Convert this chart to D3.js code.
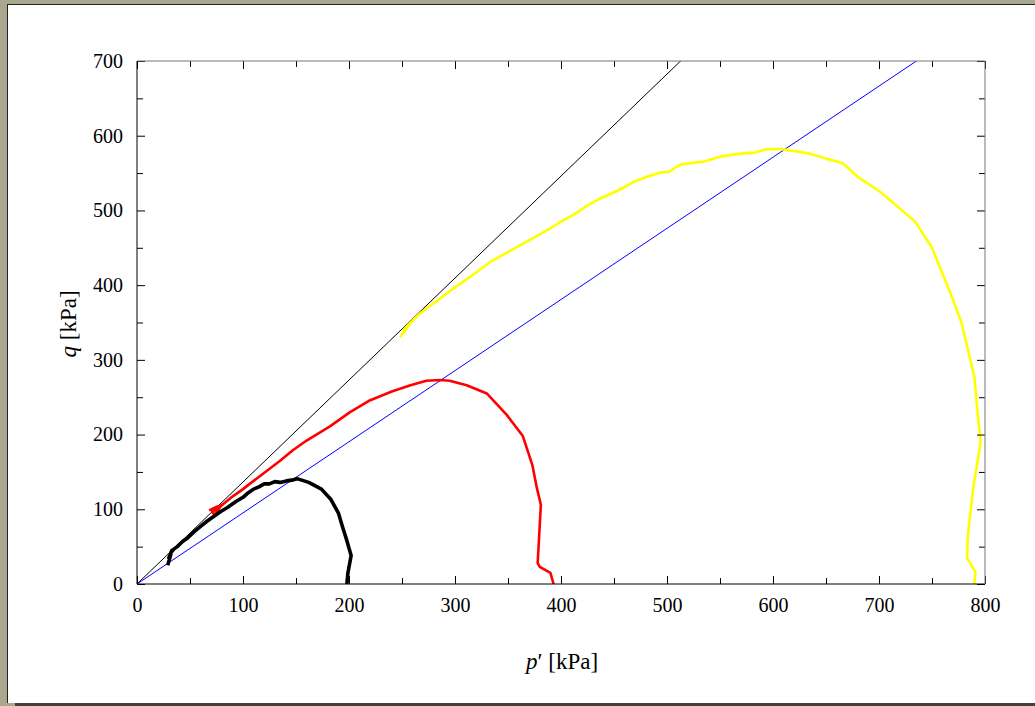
<!DOCTYPE html>
<html>
<head>
<meta charset="utf-8">
<script src="https://cdn.jsdelivr.net/npm/d3@7"></script>
<style>
  html, body { margin: 0; padding: 0; background: #a9a88f; }
  svg { display: block; }
  text { font-family: "Liberation Serif", "Times New Roman", serif; fill: #000; }
</style>
</head>
<body>
<svg id="chart" width="1035" height="706"></svg>
<script>
// Stress paths of three undrained triaxial tests: mean effective stress p' vs deviator q (kPa)
const testA_p = [198, 199, 202, 198, 194, 190, 183, 174, 162, 151, 146, 141, 135, 130, 125, 120, 115, 110, 104, 100, 93, 85, 79, 72, 66, 60, 54, 48, 43, 38, 35, 32, 33, 30, 32, 29];
const testA_q = [0, 15, 38, 58, 76, 95, 113, 127, 136, 141, 139, 138, 136, 137, 134, 134, 130, 127, 121, 116, 110, 102, 97, 90, 84, 77, 70, 62, 57, 50, 47, 42, 45, 35, 40, 25];

const testB_p = [393, 390, 380, 378, 381, 377, 373, 364, 349, 330, 311, 295, 286, 273, 258, 241, 220, 201, 182, 160, 147, 135, 122, 110, 100, 90, 84, 78, 74, 69, 76, 71, 80, 73, 70];
const testB_q = [0, 15, 23, 28, 106, 130, 159, 198, 226, 255, 266, 272, 273, 272, 266, 258, 246, 230, 211, 192, 179, 165, 151, 138, 127, 117, 110, 103, 100, 99, 104, 96, 106, 92, 100];

const testC_p = [790, 791, 783, 784, 789, 796, 793, 790, 784, 778, 770, 750, 734, 716, 701, 680, 666, 651, 635, 609, 594, 581, 569, 550, 534, 525, 512, 501, 495, 481, 467, 453, 437, 423, 413, 401, 390, 376, 361, 347, 333, 319, 305, 295, 286, 276, 267, 261, 256, 252, 258, 250, 255, 248];
const testC_q = [0, 16, 35, 68, 130, 190, 229, 277, 313, 349, 380, 450, 485, 507, 525, 545, 563, 569, 576, 582, 582, 577, 576, 572, 565, 564, 561, 551, 551, 545, 537, 526, 516, 505, 495, 486, 476, 465, 453, 442, 431, 416, 402, 392, 382, 372, 362, 354, 347, 341, 349, 334, 343, 330];

// Critical-state lines q = M p'
const slopeCompression = 1.365;
const slopeLower = 0.952;

const xTicks = [0, 100, 200, 300, 400, 500, 600, 700, 800];
const yTicks = [0, 100, 200, 300, 400, 500, 600, 700];

const svg = d3.select("#chart");

// page frame with drop shadow
svg.append("rect").attr("x", 15).attr("y", 12).attr("width", 1035).attr("height", 700).attr("fill", "#404040");
svg.append("rect").attr("x", 7).attr("y", 4).attr("width", 1040).attr("height", 699).attr("fill", "#fff");
svg.append("line").attr("x1", 7.5).attr("x2", 7.5).attr("y1", 4).attr("y2", 703).attr("stroke", "#222");
svg.append("line").attr("x1", 7).attr("x2", 1035).attr("y1", 4.5).attr("y2", 4.5).attr("stroke", "#222");

const mLeft = 137, mRight = 985, mTop = 61, mBottom = 584;
const x = d3.scaleLinear().domain([0, 800]).range([mLeft, mRight]);
const y = d3.scaleLinear().domain([0, 700]).range([mBottom, mTop]);

const plot = svg.append("g");
plot.append("defs").append("clipPath").attr("id", "clip")
  .append("rect").attr("x", mLeft).attr("y", mTop).attr("width", mRight - mLeft).attr("height", mBottom - mTop);

// reference lines through the origin
const lineGen = d3.line().x(d => x(d[0])).y(d => y(d[1]));
const refs = [
  { m: slopeCompression, color: "#000" },
  { m: slopeLower, color: "#0000ff" }
];
refs.forEach(r => {
  const pEnd = 800;
  plot.append("path")
    .attr("clip-path", "url(#clip)")
    .attr("d", lineGen([[0, 0], [pEnd, r.m * pEnd]]))
    .attr("fill", "none").attr("stroke", r.color).attr("stroke-width", 1);
});

// stress paths
const series = [
  { p: testC_p, q: testC_q, color: "#ffff00", w: 2.6 },
  { p: testB_p, q: testB_q, color: "#ff0000", w: 2.6 },
  { p: testA_p, q: testA_q, color: "#000000", w: 3.6 }
];
series.forEach(s => {
  const pts = s.p.map((v, i) => [v, s.q[i]]);
  plot.append("path")
    .attr("d", lineGen(pts))
    .attr("fill", "none").attr("stroke", s.color)
    .attr("stroke-width", s.w).attr("stroke-linejoin", "round");
});

// axes with inward ticks on all sides
const minorX = d3.range(50, 800, 100);
const minorY = d3.range(50, 700, 100);
const axisBottom = d3.axisBottom(x).tickValues(xTicks).tickSize(-8).tickPadding(14).tickFormat(d3.format("d"));
const axisLeft = d3.axisLeft(y).tickValues(yTicks).tickSize(-8).tickPadding(14).tickFormat(d3.format("d"));

svg.append("g").attr("transform", `translate(0,${mBottom})`).call(axisBottom);
svg.append("g").attr("transform", `translate(${mLeft},0)`).call(axisLeft);
svg.append("g").attr("transform", `translate(0,${mBottom})`)
  .call(d3.axisBottom(x).tickValues(minorX).tickSize(-6).tickFormat(""));
svg.append("g").attr("transform", `translate(${mLeft},0)`)
  .call(d3.axisLeft(y).tickValues(minorY).tickSize(-6).tickFormat(""));
svg.append("g").attr("transform", `translate(0,${mTop})`)
  .call(d3.axisTop(x).tickValues(xTicks).tickSize(-8).tickFormat(""));
svg.append("g").attr("transform", `translate(0,${mTop})`)
  .call(d3.axisTop(x).tickValues(minorX).tickSize(-6).tickFormat(""));
svg.append("g").attr("transform", `translate(${mRight},0)`)
  .call(d3.axisRight(y).tickValues(yTicks).tickSize(-8).tickFormat(""));
svg.append("g").attr("transform", `translate(${mRight},0)`)
  .call(d3.axisRight(y).tickValues(minorY).tickSize(-6).tickFormat(""));

svg.selectAll(".domain").attr("stroke", "none");
svg.selectAll(".tick line").attr("stroke", "#000");
svg.selectAll(".tick text").style("font-family", "Liberation Serif, serif").style("font-size", "20px");

// plot frame
svg.append("line").attr("x1", mLeft).attr("x2", mLeft).attr("y1", mTop).attr("y2", mBottom).attr("stroke", "#000");
svg.append("line").attr("x1", mLeft).attr("x2", mRight).attr("y1", mBottom).attr("y2", mBottom).attr("stroke", "#000");
svg.append("line").attr("x1", mLeft).attr("x2", mRight).attr("y1", mTop).attr("y2", mTop).attr("stroke", "#777");
svg.append("line").attr("x1", mRight).attr("x2", mRight).attr("y1", mTop).attr("y2", mBottom).attr("stroke", "#777");

// axis titles
const xt = svg.append("text").attr("x", 562).attr("y", 669).attr("text-anchor", "middle").style("font-size", "23px");
xt.append("tspan").style("font-style", "italic").text("p");
xt.append("tspan").text("′ [kPa]");

const yt = svg.append("text").attr("transform", "translate(76,324) rotate(-90)").attr("text-anchor", "middle").style("font-size", "23px");
yt.append("tspan").style("font-style", "italic").text("q");
yt.append("tspan").text(" [kPa]");
</script>
</body>
</html>
